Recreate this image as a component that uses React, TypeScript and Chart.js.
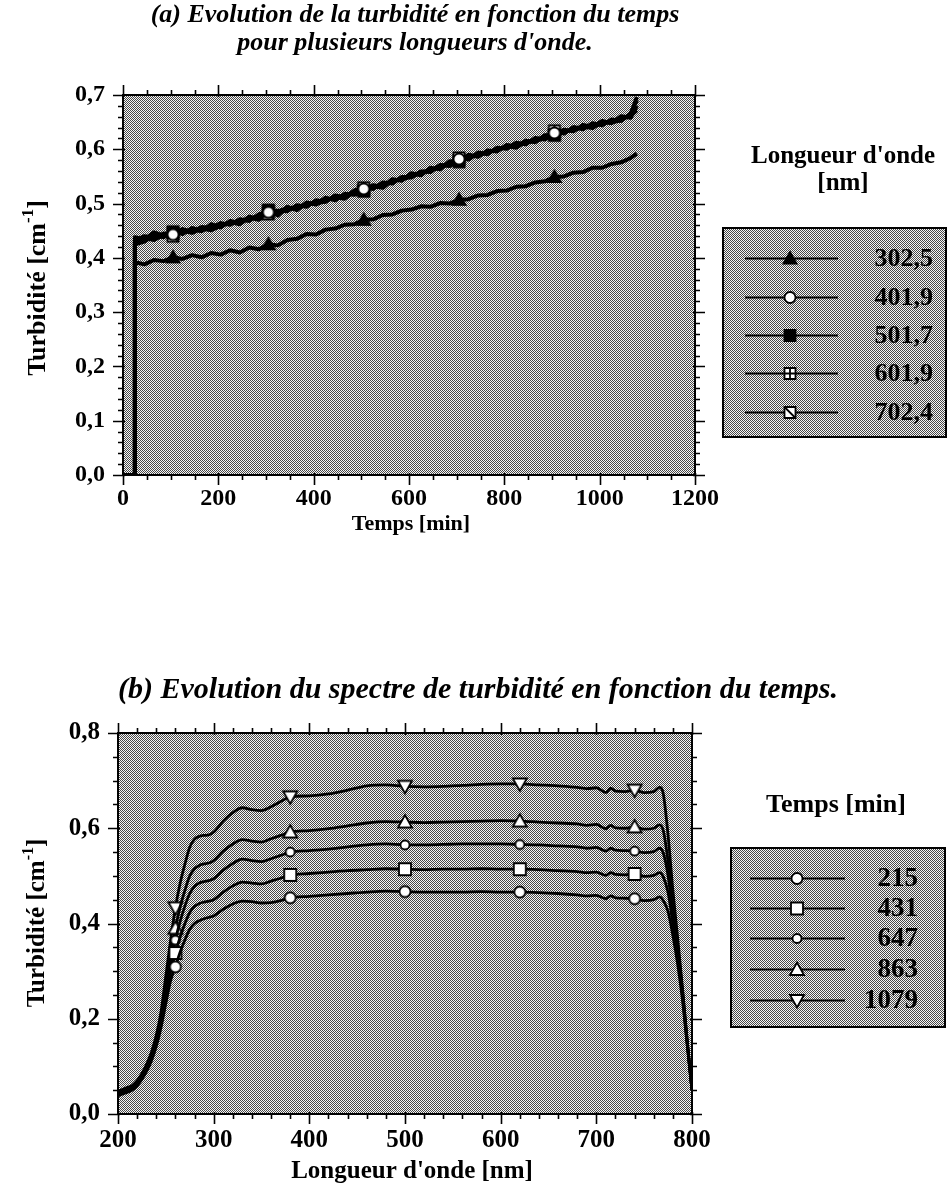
import React, { useEffect, useRef } from 'react';
import { Chart, registerables } from 'chart.js';
Chart.register(...registerables);

const FONT = "'Liberation Serif', 'Times New Roman', serif";

// ---------- Chart (a): turbidity vs time ----------
const timeMin = [0, 24, 25, 45, 65, 85, 105, 125, 145, 165, 185, 205, 225, 245, 265, 285, 305, 325, 345, 365, 385, 405, 425, 445, 465, 485, 505, 525, 545, 565, 585, 605, 625, 645, 665, 685, 705, 725, 745, 765, 785, 805, 825, 845, 865, 885, 905, 925, 945, 965, 985, 1005, 1025, 1045, 1065, 1078];
const wavelengthLabels = ['302,5', '401,9', '501,7', '601,9', '702,4'];
const turb302 = [0, 0, 0.392, 0.388, 0.396, 0.394, 0.401, 0.398, 0.405, 0.401, 0.409, 0.406, 0.414, 0.41, 0.419, 0.416, 0.425, 0.423, 0.433, 0.435, 0.444, 0.443, 0.452, 0.454, 0.461, 0.462, 0.47, 0.471, 0.479, 0.48, 0.487, 0.489, 0.495, 0.494, 0.501, 0.5, 0.507, 0.508, 0.515, 0.516, 0.523, 0.524, 0.531, 0.532, 0.539, 0.541, 0.549, 0.55, 0.557, 0.558, 0.566, 0.566, 0.573, 0.576, 0.584, 0.592];
const turb401 = [0, 0, 0.432, 0.44, 0.436, 0.445, 0.443, 0.447, 0.452, 0.45, 0.458, 0.46, 0.464, 0.468, 0.472, 0.476, 0.484, 0.482, 0.49, 0.494, 0.497, 0.503, 0.507, 0.51, 0.514, 0.52, 0.527, 0.53, 0.535, 0.54, 0.547, 0.552, 0.555, 0.562, 0.567, 0.574, 0.582, 0.585, 0.59, 0.594, 0.6, 0.604, 0.608, 0.612, 0.617, 0.622, 0.63, 0.632, 0.637, 0.64, 0.644, 0.647, 0.652, 0.657, 0.662, 0.672];
const turb501 = [0, 0, 0.425, 0.43, 0.442, 0.438, 0.448, 0.444, 0.455, 0.449, 0.462, 0.456, 0.468, 0.464, 0.476, 0.472, 0.488, 0.478, 0.494, 0.488, 0.502, 0.498, 0.511, 0.506, 0.518, 0.516, 0.523, 0.534, 0.531, 0.545, 0.542, 0.556, 0.552, 0.566, 0.563, 0.578, 0.577, 0.59, 0.586, 0.598, 0.596, 0.608, 0.605, 0.616, 0.613, 0.626, 0.627, 0.636, 0.633, 0.645, 0.641, 0.652, 0.648, 0.661, 0.658, 0.68];
const turb601 = [0, 0, 0.438, 0.434, 0.447, 0.441, 0.446, 0.453, 0.448, 0.457, 0.455, 0.464, 0.461, 0.471, 0.468, 0.48, 0.486, 0.487, 0.486, 0.497, 0.494, 0.506, 0.503, 0.515, 0.512, 0.524, 0.529, 0.527, 0.539, 0.537, 0.549, 0.548, 0.559, 0.558, 0.571, 0.569, 0.584, 0.581, 0.594, 0.591, 0.603, 0.601, 0.612, 0.609, 0.621, 0.618, 0.634, 0.629, 0.641, 0.637, 0.648, 0.644, 0.655, 0.652, 0.666, 0.69];
const turb702 = [0, 0, 0.428, 0.437, 0.433, 0.442, 0.44, 0.45, 0.446, 0.454, 0.451, 0.459, 0.466, 0.462, 0.474, 0.47, 0.481, 0.485, 0.492, 0.49, 0.5, 0.499, 0.505, 0.512, 0.509, 0.522, 0.524, 0.532, 0.529, 0.543, 0.544, 0.55, 0.558, 0.56, 0.57, 0.571, 0.58, 0.588, 0.588, 0.596, 0.598, 0.606, 0.603, 0.614, 0.615, 0.62, 0.626, 0.634, 0.635, 0.642, 0.639, 0.65, 0.649, 0.654, 0.664, 0.696];
const markerIdxA = [6, 16, 26, 36, 46];

// ---------- Chart (b): turbidity spectrum ----------
const wavelengthNm = [200, 205, 210, 215, 220, 225, 230, 235, 240, 245, 250, 255, 260, 265, 270, 275, 280, 285, 290, 295, 300, 310, 320, 330, 340, 350, 360, 370, 380, 400, 420, 440, 460, 480, 500, 520, 540, 560, 580, 600, 620, 640, 660, 680, 690, 700, 710, 715, 720, 730, 740, 750, 760, 766, 770, 775, 780, 785, 790, 795, 800];
const timeLabels = ['215', '431', '647', '863', '1079'];
const spec215 = [0.038, 0.042, 0.046, 0.05, 0.059, 0.073, 0.09, 0.112, 0.142, 0.182, 0.232, 0.28, 0.309, 0.34, 0.366, 0.388, 0.4, 0.406, 0.41, 0.413, 0.416, 0.43, 0.441, 0.447, 0.446, 0.443, 0.444, 0.448, 0.454, 0.457, 0.46, 0.463, 0.466, 0.468, 0.467, 0.466, 0.466, 0.466, 0.467, 0.466, 0.466, 0.465, 0.463, 0.46, 0.458, 0.459, 0.452, 0.458, 0.454, 0.453, 0.452, 0.448, 0.45, 0.456, 0.448, 0.425, 0.375, 0.315, 0.24, 0.145, 0.05];
const spec431 = [0.041, 0.045, 0.049, 0.053, 0.062, 0.076, 0.094, 0.117, 0.148, 0.19, 0.245, 0.298, 0.338, 0.372, 0.4, 0.423, 0.436, 0.442, 0.445, 0.447, 0.45, 0.466, 0.479, 0.487, 0.485, 0.483, 0.489, 0.495, 0.502, 0.505, 0.508, 0.511, 0.513, 0.515, 0.514, 0.513, 0.514, 0.514, 0.515, 0.514, 0.514, 0.513, 0.511, 0.509, 0.507, 0.508, 0.501, 0.507, 0.503, 0.502, 0.504, 0.499, 0.501, 0.507, 0.498, 0.465, 0.4, 0.335, 0.25, 0.148, 0.05];
const spec647 = [0.043, 0.047, 0.051, 0.055, 0.064, 0.078, 0.097, 0.121, 0.153, 0.198, 0.258, 0.315, 0.365, 0.405, 0.437, 0.463, 0.478, 0.485, 0.488, 0.49, 0.494, 0.512, 0.526, 0.535, 0.532, 0.53, 0.536, 0.543, 0.55, 0.553, 0.556, 0.561, 0.565, 0.567, 0.565, 0.565, 0.566, 0.567, 0.567, 0.567, 0.566, 0.565, 0.563, 0.561, 0.558, 0.56, 0.552, 0.558, 0.554, 0.553, 0.552, 0.549, 0.551, 0.558, 0.548, 0.5, 0.42, 0.345, 0.255, 0.15, 0.05];
const spec863 = [0.045, 0.049, 0.053, 0.057, 0.066, 0.08, 0.1, 0.125, 0.158, 0.205, 0.27, 0.335, 0.39, 0.435, 0.47, 0.5, 0.515, 0.522, 0.525, 0.527, 0.532, 0.552, 0.567, 0.576, 0.573, 0.571, 0.578, 0.585, 0.592, 0.595, 0.599, 0.605, 0.611, 0.614, 0.613, 0.612, 0.613, 0.614, 0.615, 0.616, 0.615, 0.613, 0.611, 0.609, 0.606, 0.608, 0.599, 0.606, 0.601, 0.6, 0.603, 0.598, 0.6, 0.607, 0.595, 0.53, 0.44, 0.355, 0.26, 0.152, 0.05];
const spec1079 = [0.048, 0.052, 0.056, 0.06, 0.07, 0.085, 0.105, 0.13, 0.165, 0.215, 0.29, 0.365, 0.433, 0.485, 0.525, 0.56, 0.577, 0.583, 0.585, 0.586, 0.592, 0.615, 0.633, 0.643, 0.639, 0.637, 0.645, 0.656, 0.666, 0.668, 0.672, 0.68, 0.689, 0.691, 0.688, 0.687, 0.688, 0.69, 0.692, 0.693, 0.693, 0.691, 0.689, 0.686, 0.683, 0.685, 0.675, 0.684, 0.678, 0.677, 0.68, 0.675, 0.677, 0.686, 0.672, 0.585, 0.47, 0.37, 0.265, 0.155, 0.05];
const markerIdxB = [12, 28, 34, 40, 50];

type MarkerKind = 'triFill' | 'circOpen' | 'rectFill' | 'rectPlus' | 'rectSlash' | 'circSmall' | 'rectOpen' | 'triOpen' | 'triDownOpen';

function drawMarker(ctx: CanvasRenderingContext2D, kind: MarkerKind, x: number, y: number) {
  ctx.save();
  ctx.lineWidth = 1.8;
  ctx.strokeStyle = '#000';
  ctx.fillStyle = '#fff';
  const sq = (s: number, fill: string) => {
    ctx.beginPath();
    ctx.rect(x - s / 2, y - s / 2, s, s);
    ctx.fillStyle = fill;
    ctx.fill();
    ctx.stroke();
  };
  switch (kind) {
    case 'triFill':
      ctx.beginPath();
      ctx.moveTo(x, y - 6.5);
      ctx.lineTo(x + 6.5, y + 5);
      ctx.lineTo(x - 6.5, y + 5);
      ctx.closePath();
      ctx.fillStyle = '#000';
      ctx.fill();
      ctx.stroke();
      break;
    case 'circOpen':
      ctx.beginPath();
      ctx.arc(x, y, 5.5, 0, Math.PI * 2);
      ctx.fill();
      ctx.stroke();
      break;
    case 'circSmall':
      ctx.beginPath();
      ctx.arc(x, y, 4.5, 0, Math.PI * 2);
      ctx.fill();
      ctx.stroke();
      break;
    case 'rectFill':
      sq(11, '#000');
      break;
    case 'rectOpen':
      sq(12, '#fff');
      break;
    case 'rectPlus':
      sq(11, '#fff');
      ctx.beginPath();
      ctx.moveTo(x - 5.5, y);
      ctx.lineTo(x + 5.5, y);
      ctx.moveTo(x, y - 5.5);
      ctx.lineTo(x, y + 5.5);
      ctx.stroke();
      break;
    case 'rectSlash':
      sq(11, '#fff');
      ctx.beginPath();
      ctx.moveTo(x - 5.5, y - 5.5);
      ctx.lineTo(x + 5.5, y + 5.5);
      ctx.stroke();
      break;
    case 'triOpen':
      ctx.beginPath();
      ctx.moveTo(x, y - 7);
      ctx.lineTo(x + 7, y + 5.5);
      ctx.lineTo(x - 7, y + 5.5);
      ctx.closePath();
      ctx.fill();
      ctx.stroke();
      break;
    case 'triDownOpen':
      ctx.beginPath();
      ctx.moveTo(x, y + 7);
      ctx.lineTo(x + 7, y - 5.5);
      ctx.lineTo(x - 7, y - 5.5);
      ctx.closePath();
      ctx.fill();
      ctx.stroke();
      break;
  }
  ctx.restore();
}

function makeMarker(kind: MarkerKind): HTMLCanvasElement {
  const c = document.createElement('canvas');
  c.width = 20;
  c.height = 20;
  drawMarker(c.getContext('2d')!, kind, 10, 10);
  return c;
}

function makePattern(ctx: CanvasRenderingContext2D): CanvasPattern {
  const t = document.createElement('canvas');
  t.width = 2;
  t.height = 2;
  const g = t.getContext('2d')!;
  g.fillStyle = '#f6f6f6';
  g.fillRect(0, 0, 2, 2);
  g.fillStyle = '#484848';
  g.fillRect(0, 0, 1, 1);
  g.fillRect(1, 1, 1, 1);
  return ctx.createPattern(t, 'repeat')!;
}

type TextItem = { t: string; x: number; y: number; font: string };
type DecorCfg = {
  xMajor: number;
  xMinor: number;
  yMajor: number;
  yMinor: number;
  texts: TextItem[];
  yTitle: { x: number; y: number; size: number };
  legend: { box: [number, number, number, number]; rows: number[]; lineX: [number, number]; markerX: number; labelX: number; kinds: MarkerKind[]; font: string };
};

function makeDecor(cfg: DecorCfg) {
  let pattern: CanvasPattern | null = null;
  return {
    id: 'decor',
    beforeDraw(chart: any) {
      const { ctx, chartArea: a } = chart;
      if (!pattern) pattern = makePattern(ctx);
      ctx.save();
      ctx.fillStyle = pattern;
      ctx.fillRect(a.left, a.top, a.right - a.left, a.bottom - a.top);
      ctx.restore();
    },
    afterDraw(chart: any) {
      const { ctx, chartArea: a } = chart;
      const xs = chart.scales.x;
      const ys = chart.scales.y;
      ctx.save();
      ctx.strokeStyle = '#000';
      ctx.lineWidth = 2;
      ctx.strokeRect(a.left, a.top, a.right - a.left, a.bottom - a.top);
      ctx.lineWidth = 1.6;
      ctx.beginPath();
      const nx = Math.round((xs.max - xs.min) / cfg.xMinor);
      for (let i = 0; i <= nx; i++) {
        const v = xs.min + i * cfg.xMinor;
        const r = v / cfg.xMajor;
        const major = Math.abs(r - Math.round(r)) < 1e-6;
        const px = Math.round(xs.getPixelForValue(v)) + 0.5;
        const out = major ? 10 : 5;
        const inn = major ? 2 : 0;
        ctx.moveTo(px, a.bottom - inn);
        ctx.lineTo(px, a.bottom + out);
        ctx.moveTo(px, a.top + inn);
        ctx.lineTo(px, a.top - out);
      }
      const ny = Math.round((ys.max - ys.min) / cfg.yMinor);
      for (let i = 0; i <= ny; i++) {
        const v = ys.min + i * cfg.yMinor;
        const r = v / cfg.yMajor;
        const major = Math.abs(r - Math.round(r)) < 1e-6;
        const py = Math.round(ys.getPixelForValue(v)) + 0.5;
        const out = major ? 10 : 5;
        const inn = major ? 2 : 0;
        ctx.moveTo(a.left + inn, py);
        ctx.lineTo(a.left - out, py);
        ctx.moveTo(a.right - inn, py);
        ctx.lineTo(a.right + out, py);
      }
      ctx.stroke();

      ctx.fillStyle = '#000';
      ctx.textAlign = 'center';
      ctx.textBaseline = 'middle';
      for (const it of cfg.texts) {
        ctx.font = `${it.font} ${FONT}`;
        ctx.fillText(it.t, it.x, it.y);
      }

      // y title with superscript
      ctx.save();
      ctx.translate(cfg.yTitle.x, cfg.yTitle.y);
      ctx.rotate(-Math.PI / 2);
      const s = cfg.yTitle.size;
      const big = `bold ${s}px ${FONT}`;
      const small = `bold ${Math.round(s * 0.65)}px ${FONT}`;
      const p1 = 'Turbidité [cm';
      const p2 = '-1';
      const p3 = ']';
      ctx.font = big;
      const w1 = ctx.measureText(p1).width;
      const w3 = ctx.measureText(p3).width;
      ctx.font = small;
      const w2 = ctx.measureText(p2).width;
      let tx = -(w1 + w2 + w3) / 2;
      ctx.textAlign = 'left';
      ctx.textBaseline = 'alphabetic';
      ctx.font = big;
      ctx.fillText(p1, tx, s * 0.33);
      tx += w1;
      ctx.font = small;
      ctx.fillText(p2, tx, -s * 0.12);
      tx += w2;
      ctx.font = big;
      ctx.fillText(p3, tx, s * 0.33);
      ctx.restore();

      // legend box
      const L = cfg.legend;
      const [bx, by, bw, bh] = L.box;
      ctx.fillStyle = pattern!;
      ctx.fillRect(bx, by, bw, bh);
      ctx.lineWidth = 2;
      ctx.strokeStyle = '#000';
      ctx.strokeRect(bx, by, bw, bh);
      chart.data.datasets.forEach((ds: any, i: number) => {
        const ry = L.rows[i];
        ctx.lineWidth = 1.8;
        ctx.beginPath();
        ctx.moveTo(L.lineX[0], ry + 0.5);
        ctx.lineTo(L.lineX[1], ry + 0.5);
        ctx.stroke();
        drawMarker(ctx, L.kinds[i], L.markerX, ry + 0.5);
        ctx.fillStyle = '#000';
        ctx.font = `${L.font} ${FONT}`;
        ctx.textAlign = 'right';
        ctx.textBaseline = 'middle';
        ctx.fillText(ds.label, L.labelX, ry + 1);
      });
      ctx.restore();
    },
  };
}

function buildChart(
  canvas: HTMLCanvasElement,
  xVals: number[],
  series: number[][],
  labels: string[],
  kinds: MarkerKind[],
  markerIdx: number[],
  opt: { xMin: number; xMax: number; xStep: number; yMin: number; yMax: number; yStep: number; axisW: number; axisH: number; pad: { top: number; right: number }; lineW: number; smooth: boolean; yPad: number; xPad: number; tickSize: number },
  decor: DecorCfg
) {
  const markers = kinds.map(makeMarker);
  const tickFont = { family: FONT, size: opt.tickSize, weight: 'bold' as const };
  return new Chart(canvas, {
    type: 'line',
    data: {
      datasets: series.map((s, i) => ({
        label: labels[i],
        data: xVals.map((x, j) => ({ x, y: s[j] })),
        borderColor: '#000',
        borderWidth: opt.lineW,
        borderJoinStyle: 'round',
        fill: false,
        tension: 0,
        cubicInterpolationMode: opt.smooth ? 'monotone' : 'default',
        pointStyle: markers[i],
        pointRadius: (c: any) => (markerIdx.includes(c.dataIndex) ? 6 : 0),
        pointHoverRadius: 0,
      })),
    } as any,
    options: {
      responsive: false,
      animation: false,
      devicePixelRatio: 1,
      events: [],
      layout: { padding: { left: 0, top: opt.pad.top, right: opt.pad.right, bottom: 0 } },
      plugins: { legend: { display: false }, tooltip: { enabled: false }, title: { display: false } },
      scales: {
        x: {
          type: 'linear',
          min: opt.xMin,
          max: opt.xMax,
          grid: { display: false, drawTicks: false },
          border: { display: false },
          ticks: {
            stepSize: opt.xStep,
            autoSkip: false,
            maxRotation: 0,
            padding: opt.xPad,
            color: '#000',
            font: tickFont,
            callback: (v: any) => String(v),
          },
          afterFit: (s: any) => {
            s.height = opt.axisH;
          },
        },
        y: {
          type: 'linear',
          min: opt.yMin,
          max: opt.yMax,
          grid: { display: false, drawTicks: false },
          border: { display: false },
          ticks: {
            stepSize: opt.yStep,
            autoSkip: false,
            padding: opt.yPad,
            color: '#000',
            font: tickFont,
            callback: (v: any) => Number(v).toFixed(1).replace('.', ','),
          },
          afterFit: (s: any) => {
            s.width = opt.axisW;
          },
        },
      },
    } as any,
    plugins: [makeDecor(decor) as any],
  });
}

export default function App() {
  const refA = useRef<HTMLCanvasElement>(null);
  const refB = useRef<HTMLCanvasElement>(null);

  useEffect(() => {
    const kindsA: MarkerKind[] = ['triFill', 'circOpen', 'rectFill', 'rectPlus', 'rectSlash'];
    const kindsB: MarkerKind[] = ['circOpen', 'rectOpen', 'circSmall', 'triOpen', 'triDownOpen'];
    const chartA = buildChart(
      refA.current!,
      timeMin,
      [turb302, turb401, turb501, turb601, turb702],
      wavelengthLabels,
      kindsA,
      markerIdxA,
      { xMin: 0, xMax: 1200, xStep: 200, yMin: 0, yMax: 0.7, yStep: 0.1, axisW: 123, axisH: 85, pad: { top: 95, right: 255 }, lineW: 4, smooth: false, yPad: 18, xPad: 9, tickSize: 24 },
      {
        xMajor: 200,
        xMinor: 50,
        yMajor: 0.1,
        yMinor: 0.02,
        texts: [
          { t: '(a) Evolution de la turbidité en fonction du temps', x: 415, y: 15, font: 'italic bold 26px' },
          { t: "pour plusieurs longueurs d'onde.", x: 415, y: 43, font: 'italic bold 26px' },
          { t: 'Temps [min]', x: 411, y: 524, font: 'bold 22px' },
          { t: "Longueur d'onde", x: 843, y: 157, font: 'bold 25px' },
          { t: '[nm]', x: 843, y: 184, font: 'bold 25px' },
        ],
        yTitle: { x: 36, y: 288, size: 26 },
        legend: { box: [723, 228, 223, 209], rows: [258, 297, 335, 373, 412], lineX: [745, 838], markerX: 790, labelX: 933, kinds: kindsA, font: 'bold 26px' },
      }
    );
    const chartB = buildChart(
      refB.current!,
      wavelengthNm,
      [spec215, spec431, spec647, spec863, spec1079],
      timeLabels,
      kindsB,
      markerIdxB,
      { xMin: 200, xMax: 800, xStep: 100, yMin: 0, yMax: 0.8, yStep: 0.2, axisW: 118, axisH: 84, pad: { top: 173, right: 258 }, lineW: 2.8, smooth: true, yPad: 18, xPad: 12, tickSize: 25 },
      {
        xMajor: 100,
        xMinor: 20,
        yMajor: 0.2,
        yMinor: 0.05,
        texts: [
          { t: '(b) Evolution du spectre de turbidité en fonction du temps.', x: 478, y: 130, font: 'italic bold 30px' },
          { t: "Longueur d'onde [nm]", x: 412, y: 612, font: 'bold 25px' },
          { t: 'Temps [min]', x: 836, y: 245, font: 'bold 26px' },
        ],
        yTitle: { x: 36, y: 363, size: 25 },
        legend: { box: [731, 288, 214, 179], rows: [318, 348, 378, 409, 440], lineX: [750, 845], markerX: 797, labelX: 918, kinds: kindsB, font: 'bold 27px' },
      }
    );
    return () => {
      chartA.destroy();
      chartB.destroy();
    };
  }, []);

  return (
    <div style={{ position: 'absolute', left: 0, top: 0, width: 950, height: 1198, background: '#fff' }}>
      <canvas ref={refA} width={950} height={560} style={{ display: 'block', width: 950, height: 560 }} />
      <canvas ref={refB} width={950} height={638} style={{ display: 'block', width: 950, height: 638 }} />
    </div>
  );
}
